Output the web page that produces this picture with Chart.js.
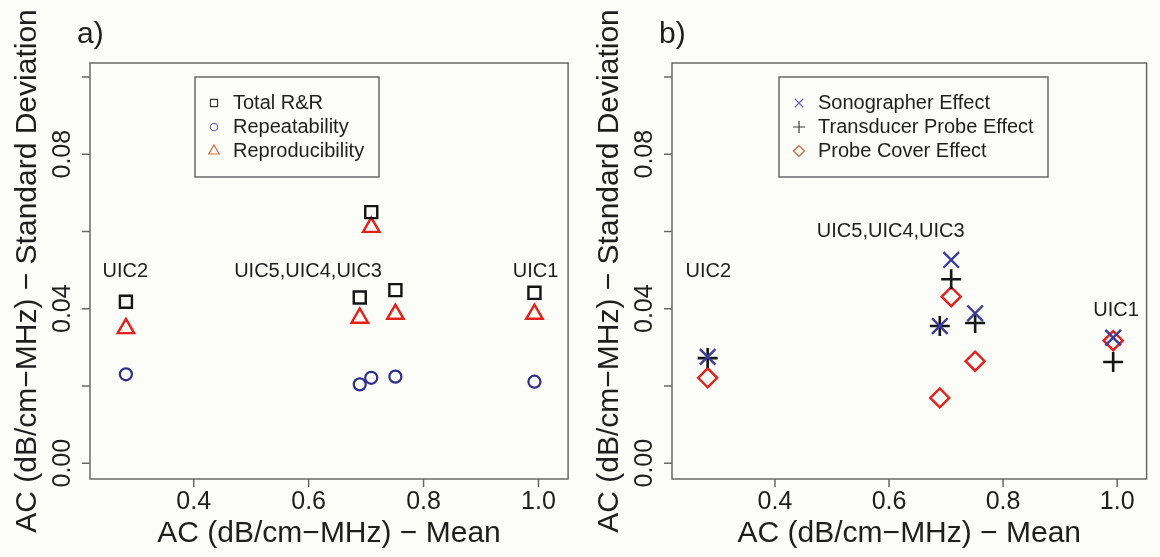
<!DOCTYPE html>
<html>
<head>
<meta charset="utf-8">
<script src="https://cdn.jsdelivr.net/npm/chart.js@4/dist/chart.umd.min.js"></script>
<style>
  html, body { margin: 0; padding: 0; background: #fcfcf9; }
  #wrap { position: relative; width: 1160px; height: 557px; }
  canvas { position: absolute; top: 0; }
</style>
</head>
<body>
<div id="wrap">
  <canvas id="panelA" width="580" height="557" style="left:0"></canvas>
  <canvas id="panelB" width="580" height="557" style="left:580px"></canvas>
</div>
<script>
// means (x) of the five phantoms: UIC2, UIC5, UIC4, UIC3, UIC1
const acMean = [0.282, 0.689, 0.709, 0.751, 0.993];

// panel a
const totalRR = [0.0418, 0.0429, 0.0650, 0.0448, 0.0441];
const repeatability = [0.0230, 0.0204, 0.0221, 0.0224, 0.0211];
const reproducibility = [0.0349, 0.0376, 0.0611, 0.0386, 0.0386];

// panel b
const sonographer = [0.0275, 0.0355, 0.0526, 0.0388, 0.0325];
const transducer = [0.0272, 0.0355, 0.0476, 0.0363, 0.0262];
const probeCover = [0.0221, 0.0169, 0.0431, 0.0264, 0.0317];

// text labels placed in data units
const uicLabels = ["UIC2", "UIC5,UIC4,UIC3", "UIC1"];
const uicXA = [0.281, 0.599, 0.995];
const uicYA = [0.0496, 0.0496, 0.0496];
const uicXB = [0.283, 0.603, 0.998];
const uicYB = [0.0496, 0.0599, 0.0396];

const xTicks = [0.4, 0.6, 0.8, 1.0];
const xTickLabels = ["0.4", "0.6", "0.8", "1.0"];
const yTicks = [0, 0.02, 0.04, 0.06, 0.08, 0.10];
const yTickLabels = ["0.00", "", "0.04", "", "0.08", ""];

const FONT = "'Liberation Sans', Arial, Helvetica, sans-serif";
const INK = "#1e1e1e";

function pts(ys) {
  return acMean.map((x, i) => ({ x, y: ys[i] }));
}

function symbol(ctx, style, radius, color, width, x, y) {
  ctx.save();
  ctx.strokeStyle = color;
  ctx.fillStyle = "rgba(0,0,0,0)";
  ctx.lineWidth = width;
  Chart.helpers.drawPoint(ctx, { pointStyle: style, radius, rotation: 0, borderWidth: width }, x, y);
  ctx.restore();
}

const frame = {
  id: "frame",
  afterDraw(chart, args, o) {
    const { ctx, chartArea: a, scales: { x, y } } = chart;
    ctx.save();
    ctx.strokeStyle = "#686868";
    ctx.lineWidth = 1.5;
    ctx.strokeRect(a.left, a.top, a.right - a.left, a.bottom - a.top);

    ctx.beginPath();
    xTicks.forEach(v => {
      const px = x.getPixelForValue(v);
      ctx.moveTo(px, a.bottom);
      ctx.lineTo(px, a.bottom + 8);
    });
    yTicks.forEach(v => {
      const py = y.getPixelForValue(v);
      ctx.moveTo(a.left, py);
      ctx.lineTo(a.left - 8, py);
    });
    ctx.stroke();

    ctx.fillStyle = INK;
    ctx.textAlign = "center";
    ctx.textBaseline = "middle";
    ctx.font = "25px " + FONT;
    xTicks.forEach((v, i) => ctx.fillText(xTickLabels[i], x.getPixelForValue(v), a.bottom + 23));
    yTicks.forEach((v, i) => {
      if (!yTickLabels[i]) return;
      ctx.save();
      ctx.translate(a.left - 27, y.getPixelForValue(v));
      ctx.rotate(-Math.PI / 2);
      ctx.fillText(yTickLabels[i], 0, 0);
      ctx.restore();
    });

    // axis titles
    ctx.font = "30px " + FONT;
    ctx.fillText("AC (dB/cm\u2212MHz) \u2212 Mean", (a.left + a.right) / 2, a.bottom + 55);
    ctx.save();
    ctx.translate(a.left - 62, (a.top + a.bottom) / 2);
    ctx.rotate(-Math.PI / 2);
    ctx.fillText("AC (dB/cm\u2212MHz) \u2212 Standard Deviation", 0, 0);
    ctx.restore();

    // panel letter
    ctx.textAlign = "left";
    ctx.textBaseline = "alphabetic";
    ctx.font = "30px " + FONT;
    ctx.fillText(o.letter, a.left - 13, 43);

    // phantom labels
    ctx.textAlign = "center";
    ctx.textBaseline = "middle";
    ctx.font = "20px " + FONT;
    uicLabels.forEach((t, i) => ctx.fillText(t, x.getPixelForValue(o.labelX[i]), y.getPixelForValue(o.labelY[i])));

    // legend
    const L = o.legend;
    ctx.fillStyle = "#fcfcf9";
    ctx.fillRect(L.left, L.top, L.width, L.height);
    ctx.strokeStyle = "#686868";
    ctx.lineWidth = 1.5;
    ctx.strokeRect(L.left, L.top, L.width, L.height);
    ctx.textAlign = "left";
    ctx.font = "20px " + FONT;
    L.items.forEach((it, i) => {
      const ry = L.top + 26 + i * 24;
      symbol(ctx, it.style, it.r, it.color, 1.2, L.left + L.symX, ry);
      ctx.fillStyle = INK;
      ctx.fillText(it.label, L.left + L.textX, ry);
    });
    ctx.restore();
  }
};

function makeChart(id, datasets, pad, opts) {
  return new Chart(document.getElementById(id), {
    type: "scatter",
    data: { datasets },
    options: {
      responsive: false,
      animation: false,
      events: [],
      layout: { padding: pad },
      scales: {
        x: { type: "linear", min: 0.2195, max: 1.0516, display: false },
        y: { type: "linear", min: -0.0041, max: 0.1036, display: false }
      },
      plugins: { legend: { display: false }, tooltip: { enabled: false }, frame: opts }
    },
    plugins: [frame]
  });
}

function ds(label, ys, style, color, r, w) {
  return {
    label,
    data: pts(ys),
    pointStyle: style,
    pointRadius: r,
    pointBorderWidth: w,
    pointBorderColor: color,
    pointBackgroundColor: "rgba(0,0,0,0)"
  };
}

makeChart("panelA", [
  ds("Total R&R", totalRR, "rect", "#141414", 8.5, 2.4),
  ds("Repeatability", repeatability, "circle", "#2d2d8e", 6, 2.2),
  ds("Reproducibility", reproducibility, "triangle", "#e3211c", 9.5, 2.4)
], { left: 90, top: 63, right: 6, bottom: 78 }, {
  letter: "a)",
  labelX: uicXA,
  labelY: uicYA,
  legend: {
    left: 195, top: 77, width: 184, height: 100, symX: 19, textX: 38,
    items: [
      { label: "Total R&R", style: "rect", r: 5, color: "#3a3a3a" },
      { label: "Repeatability", style: "circle", r: 3.7, color: "#6a6ab0" },
      { label: "Reproducibility", style: "triangle", r: 6, color: "#d8663e" }
    ]
  }
});

makeChart("panelB", [
  ds("Sonographer Effect", sonographer, "crossRot", "#3b3b9c", 11, 2.4),
  ds("Transducer Probe Effect", transducer, "cross", "#141414", 10, 2.6),
  ds("Probe Cover Effect", probeCover, "rectRot", "#e3211c", 9.5, 2.4)
], { left: 92, top: 63, right: 2, bottom: 78 }, {
  letter: "b)",
  labelX: uicXB,
  labelY: uicYB,
  legend: {
    left: 199, top: 77, width: 269, height: 100, symX: 20, textX: 39,
    items: [
      { label: "Sonographer Effect", style: "crossRot", r: 6, color: "#6a6ab0" },
      { label: "Transducer Probe Effect", style: "cross", r: 6, color: "#3a3a3a" },
      { label: "Probe Cover Effect", style: "rectRot", r: 5.5, color: "#d8663e" }
    ]
  }
});
</script>
</body>
</html>
